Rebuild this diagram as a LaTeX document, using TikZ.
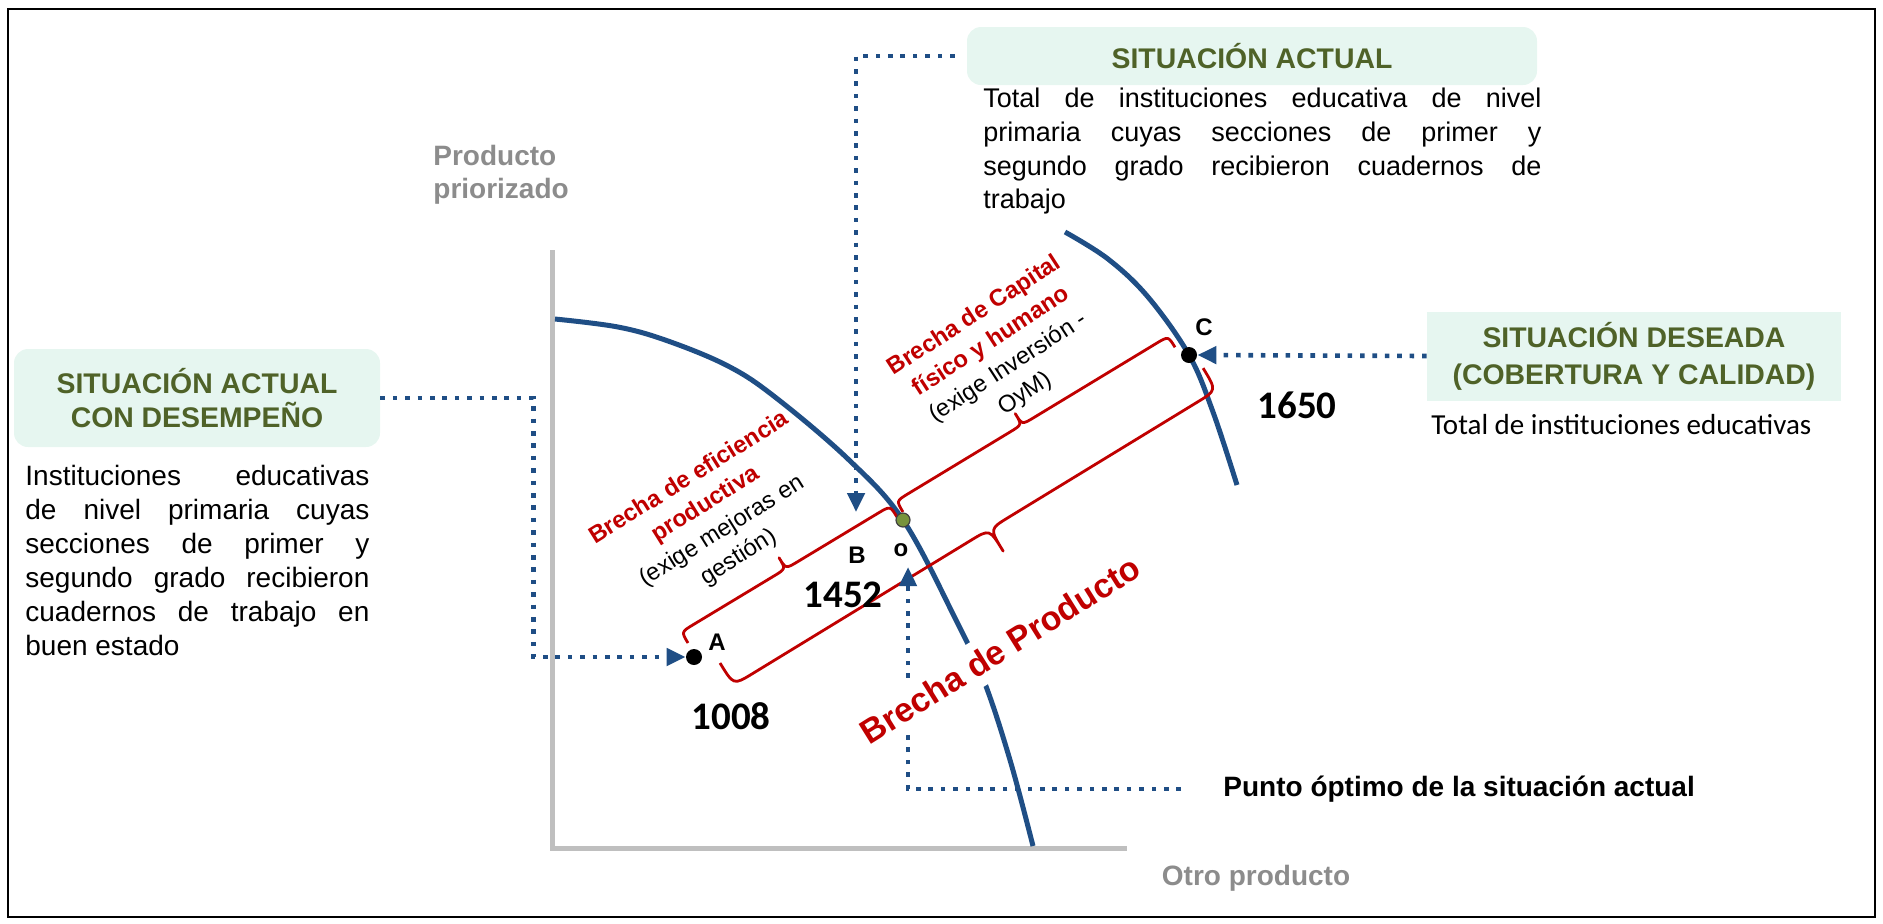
\documentclass[tikz,border=0pt]{standalone}
\usepackage{fontspec}
\setmainfont{Liberation Sans}
\newfontfamily\calib{Carlito}
\usetikzlibrary{arrows.meta,calc}
\definecolor{cblue}{HTML}{1F4E85}
\definecolor{cred}{HTML}{C00000}
\definecolor{cgreen}{HTML}{4F6228}
\definecolor{cmint}{HTML}{E6F6F0}
\definecolor{caxis}{HTML}{BFBFBF}
\definecolor{clabel}{HTML}{8C8C8C}
\definecolor{cdot}{HTML}{77933C}
\begin{document}
\begin{tikzpicture}[x=0.5pt,y=-0.5pt,
  dotline/.style={cblue, line width=2.3pt, dash pattern=on 2.3pt off 3.9pt},
  dotarrow/.style={dotline, -{Triangle[length=9.5pt,width=8.5pt]}},
  ppf/.style={cblue, line width=2.5pt},
  bracepath/.style={cred, line width=1.4pt, line join=round},
  titlebox/.style={fill=cmint, draw=none, text=cgreen, font=\fontsize{14.2}{17}\selectfont\bfseries, align=center, inner sep=0pt},
  para/.style={inner sep=0pt, align=left},
  axlbl/.style={text=clabel, font=\fontsize{14}{16.5}\selectfont\bfseries, inner sep=0pt},
  lbl/.style={font=\fontsize{12}{14}\selectfont\bfseries, inner sep=0pt},
  num/.style={font=\calib\fontsize{19.5}{22}\selectfont\bfseries, inner sep=0pt},
  blackdot/.style={circle, fill=black, minimum size=8pt, inner sep=0pt},
  rotblock/.style={align=center, font=\fontsize{11.9}{15.5}\selectfont, inner sep=0pt}
]
\useasboundingbox (0,0) rectangle (1883,923);
% frame
\draw[line width=1pt] (8,9) rectangle (1875,917);

% axes
\draw[caxis, line width=2.5pt] (552,250) -- (552,848) -- (1127,848);
\node[axlbl, anchor=north west, align=left] (yl) at (433,145) {Producto\\priorizado};
\node[axlbl] (xl) at (1256,878) {Otro producto};

% curves
\draw[ppf] plot[smooth, tension=0.6] coordinates {(555,319) (618,327) (668,341) (728,366) (775,397) (848,459) (903,520) (955,618) (984,681) (1010,760) (1033,846)};
\draw[ppf] plot[smooth, tension=0.6] coordinates {(1065,232) (1108,259) (1148,297) (1189,355) (1213,412) (1237,485)};

% boxes
\node[titlebox, rounded corners=7pt, minimum width=183pt, minimum height=49pt] (bl) at (197,398) {SITUACIÓN ACTUAL\\CON DESEMPEÑO};
\node[titlebox, rounded corners=7pt, minimum width=285pt, minimum height=29pt] (bt) at (1252,56) {SITUACIÓN ACTUAL};
\node[titlebox, minimum width=207pt, minimum height=44.5pt, font=\fontsize{14.2}{18.5}\selectfont\bfseries] (br) at (1634,356) {SITUACIÓN DESEADA\\(COBERTURA Y CALIDAD)};

% paragraphs
\node[para, anchor=north west, font=\fontsize{14}{17}\selectfont] (pl) at (25,465) {%
\makebox[172pt][s]{Instituciones educativas}\\
\makebox[172pt][s]{de nivel primaria cuyas}\\
\makebox[172pt][s]{secciones de primer y}\\
\makebox[172pt][s]{segundo grado recibieron}\\
\makebox[172pt][s]{cuadernos de trabajo en}\\
buen estado};
\node[para, anchor=north west, font=\fontsize{13.5}{16.8}\selectfont] (pt) at (983,88) {%
\makebox[279pt][s]{Total de instituciones educativa de nivel}\\
\makebox[279pt][s]{primaria cuyas secciones de primer y}\\
\makebox[279pt][s]{segundo grado recibieron cuadernos de}\\
trabajo};
\node[para, anchor=west, font=\calib\fontsize{14.5}{17}\selectfont] (pr) at (1431,425) {Total de instituciones educativas};

% braces
\begin{scope}[shift={(688,643)}, rotate=31.1]
\draw[bracepath] (0,0) .. controls (0,-13) .. (14,-13) -- (108,-13) .. controls (122,-13) .. (122,-26) .. controls (122,-13) .. (136,-13) -- (230,-13) .. controls (244,-13) .. (244,0);
\end{scope}
\begin{scope}[shift={(903,512)}, rotate=31.2]
\draw[bracepath] (0,0) .. controls (0,-13) .. (14,-13) -- (133,-13) .. controls (147,-13) .. (147,-26) .. controls (147,-13) .. (161,-13) -- (304,-13) .. controls (318,-13) .. (318,0);
\end{scope}
\begin{scope}[shift={(720,663)}, rotate=31.4]
\draw[bracepath] (0,0) .. controls (0,26) .. (22,26) -- (278,26) .. controls (300,26) .. (300,52) .. controls (300,26) .. (322,26) -- (544,26) .. controls (566,26) .. (566,0);
\end{scope}

% points
\node[blackdot] (A) at (694,657) {};
\node[blackdot] (C) at (1189,355) {};
\node[circle, fill=cdot, draw=black!75, line width=0.6pt, minimum size=7pt, inner sep=0pt] (O) at (903,520) {};

% labels
\node[lbl] (lA) at (717,642) {A};
\node[lbl] (lB) at (857,555) {B};
\node[lbl] (lO) at (901,550) {o};
\node[lbl] (lC) at (1204,327) {C};
\node[num] (n1008) at (731,716) {1008};
\node[num] (n1452) at (843,595) {1452};
\node[num] (n1650) at (1297,405) {1650};

% connectors
\coordinate (tipB) at (856,512);
\coordinate (tipO) at (908,567);
\node[anchor=west, font=\fontsize{14}{17}\selectfont\bfseries, inner sep=0pt] (po) at (1223,789) {Punto óptimo de la situación actual};
\draw[dotarrow] (bl.east) -- ++(153,0) |- (A.west);
\draw[dotarrow] ([xshift=-6pt]bt.west) -| (tipB);
\draw[dotarrow] (br.west) -- (C.east);
\draw[dotarrow] ([xshift=-21pt]po.west) -| (tipO);

% rotated texts
\node[rotblock, rotate=32] (be) at (714,518) {{\color{cred}\bfseries Brecha de eficiencia}\\{\color{cred}\bfseries productiva}\\(exige mejoras en\\gestión)};
\node[rotblock, rotate=33] (bc) at (1000,355) {{\color{cred}\bfseries Brecha de Capital}\\{\color{cred}\bfseries físico y humano}\\(exige Inversión -\\OyM)};
\node[rotate=32, fill=white, text=cred, font=\fontsize{17}{19}\selectfont\bfseries, inner xsep=3pt, inner ysep=5pt] (bp) at (1000,650) {Brecha de Producto};
\end{tikzpicture}
\end{document}
